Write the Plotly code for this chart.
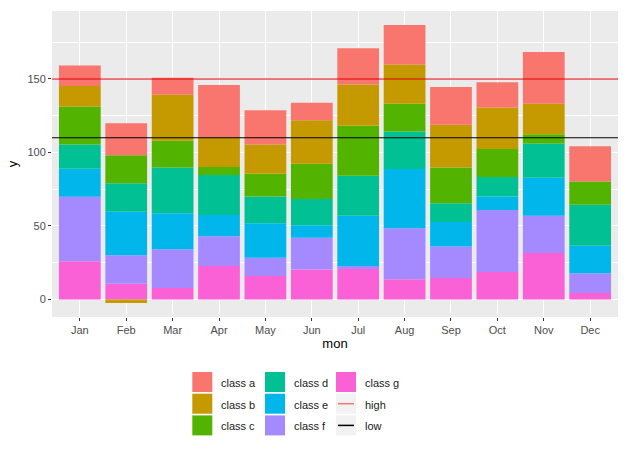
import plotly.graph_objects as go

months = ["Jan", "Feb", "Mar", "Apr", "May", "Jun", "Jul", "Aug", "Sep", "Oct", "Nov", "Dec"]
class_a = [13.9, 21.8, 11.6, 35.8, 23.4, 11.8, 24.6, 27.0, 25.7, 17.1, 35.3, 23.9]
class_b = [13.9, -2.5, 31.4, 20.0, 19.8, 29.6, 28.2, 26.7, 29.1, 28.2, 20.7, 0.0]
class_c = [25.9, 19.1, 18.2, 5.4, 15.5, 24.1, 33.9, 18.9, 24.2, 19.1, 6.3, 15.9]
class_d = [16.4, 19.4, 31.0, 27.3, 18.2, 17.8, 27.3, 25.4, 12.9, 13.2, 23.3, 27.8]
class_e = [19.1, 29.6, 24.6, 14.4, 23.5, 8.6, 34.1, 40.3, 16.6, 9.3, 25.9, 18.8]
class_f = [44.0, 19.3, 26.4, 20.2, 12.5, 21.6, 2.1, 34.8, 21.4, 42.1, 25.3, 13.5]
class_g = [25.9, 10.7, 7.7, 22.8, 15.9, 20.3, 20.7, 13.7, 14.6, 18.7, 31.6, 4.3]
high_value = 150
low_value = 110

series_names = ["class a", "class b", "class c", "class d", "class e", "class f", "class g"]
series_values = [class_a, class_b, class_c, class_d, class_e, class_f, class_g]
colors = ["#F8766D", "#C49A00", "#53B400", "#00C094", "#00B6EB", "#A58AFF", "#FB61D7"]

W, H = 625, 454
L, R, T, B = 52, 7, 11, 137
PW, PH = W - L - R, H - T - B

def px_x(p):
    return (p - L) / PW

def px_y(p):
    return (H - B - p) / PH

fig = go.Figure()
# ggplot stacks first level on top -> add in reverse order
for name, vals, col in reversed(list(zip(series_names, series_values, colors))):
    fig.add_trace(go.Bar(x=months, y=vals, name=name, marker=dict(color=col, line=dict(width=0)),
                         showlegend=False))

fig.add_hline(y=high_value, line=dict(color="#E00000", width=1.1))
fig.add_hline(y=low_value, line=dict(color="black", width=1.1))

# y range like ggplot expansion
pos = [sum(max(v[i], 0) for v in series_values) for i in range(len(months))]
neg = [sum(min(v[i], 0) for v in series_values) for i in range(len(months))]
ymax = max(max(pos), high_value)
ymin = min(min(neg), 0)
span = ymax - ymin
yr = [ymin - 0.05 * span, ymax + 0.05 * span]

fig.update_layout(
    width=W, height=H,
    margin=dict(l=L, r=R, t=T, b=B, autoexpand=False),
    paper_bgcolor="white", plot_bgcolor="#EBEBEB",
    barmode="relative", bargap=0.1,
    font=dict(family="Liberation Sans, Arial, sans-serif", size=11, color="#4D4D4D"),
    xaxis=dict(range=[-0.6, len(months) - 0.4], showgrid=True, gridcolor="white", gridwidth=1.1,
               ticks="outside", ticklen=3, tickcolor="#333333", tickwidth=1,
               tickfont=dict(size=11, color="#4D4D4D"), zeroline=False,
               title=dict(text="mon", font=dict(size=13, color="black"), standoff=3)),
    yaxis=dict(range=yr, tickvals=[0, 50, 100, 150], showgrid=True, gridcolor="white", gridwidth=1.1,
               minor=dict(tickvals=[25, 75, 125, 175], showgrid=True, gridcolor="white", gridwidth=0.5),
               ticks="outside", ticklen=3, tickcolor="#333333", tickwidth=1,
               tickfont=dict(size=11, color="#4D4D4D"), zeroline=False,
               title=dict(text="y", font=dict(size=13, color="black"), standoff=6)),
)

# Manual legend (column-major like ggplot)
legend_items = [("class a", "fill", colors[0]), ("class b", "fill", colors[1]), ("class c", "fill", colors[2]),
                ("class d", "fill", colors[3]), ("class e", "fill", colors[4]), ("class f", "fill", colors[5]),
                ("class g", "fill", colors[6]), ("high", "line", "#F8766D"), ("low", "line", "black")]
col_x = [192.3, 265.0, 336.0]
row_top = [372.0, 393.7, 415.4]
key = 20
for idx, (label, kind, col) in enumerate(legend_items):
    c, r = idx // 3, idx % 3
    x0, y0 = col_x[c], row_top[r]
    if kind == "fill":
        fig.add_shape(type="rect", xref="paper", yref="paper",
                      x0=px_x(x0), x1=px_x(x0 + key), y0=px_y(y0 + key), y1=px_y(y0),
                      fillcolor=col, line=dict(width=0), layer="above")
    else:
        fig.add_shape(type="rect", xref="paper", yref="paper",
                      x0=px_x(x0), x1=px_x(x0 + key), y0=px_y(y0 + key), y1=px_y(y0),
                      fillcolor="#F2F2F2", line=dict(width=0), layer="above")
        fig.add_shape(type="line", xref="paper", yref="paper",
                      x0=px_x(x0 + 2), x1=px_x(x0 + key - 2), y0=px_y(y0 + key / 2), y1=px_y(y0 + key / 2),
                      line=dict(color=col, width=1.5), layer="above")
    fig.add_annotation(xref="paper", yref="paper", x=px_x(x0 + key + 7), y=px_y(y0 + key / 2 + 1),
                       text=label, showarrow=False, xanchor="left", yanchor="middle",
                       font=dict(size=11, color="#1A1A1A"))

fig.write_html("out.html", config={"displayModeBar": False},
               post_script="document.body.style.margin='0px';document.body.style.padding='0px';")
